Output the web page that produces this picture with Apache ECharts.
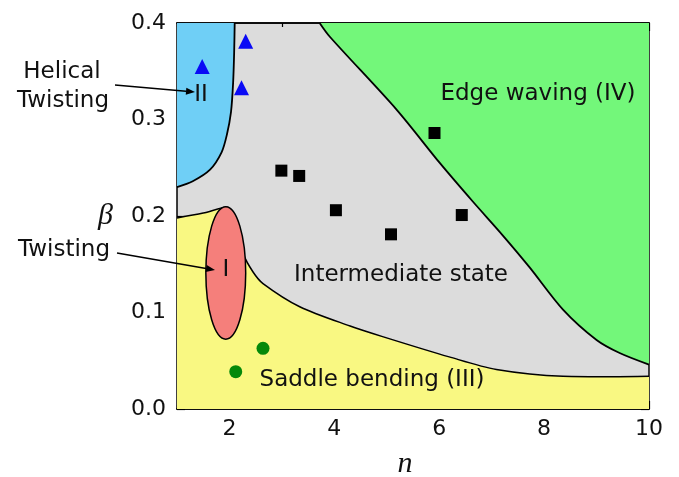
<!DOCTYPE html>
<html>
<head>
<meta charset="utf-8">
<script src="https://cdn.jsdelivr.net/npm/echarts@6/dist/echarts.min.js"></script>
<style>html,body{margin:0;padding:0;background:#fff}#c{width:679px;height:477px}</style>
</head>
<body>
<div id="c"></div>
<script>
// Region boundaries [n, beta]
const helicalBoundary = [[1.0,0.230],[1.3,0.236],[1.63,0.248],[1.85,0.266],[1.95,0.284],[2.03,0.308],[2.07,0.338],[2.09,0.370],[2.10,0.400]];
const edgeWavingBoundary = [[3.72,0.400],[3.91,0.386],[5.19,0.310],[6.01,0.255],[6.64,0.215],[7.21,0.180],[7.72,0.147],[8.36,0.103],[9.0,0.0715],[9.44,0.058],[10.0,0.046]];
const saddleBoundary = [[1.0,0.198],[1.5,0.203],[1.95,0.209],[2.15,0.185],[2.26,0.161],[2.45,0.142],[2.64,0.130],[3.34,0.106],[4.30,0.086],[4.92,0.075],[6.19,0.054],[7.09,0.041],[8.36,0.034],[9.3,0.0335],[10.0,0.034]];
// Twisting ellipse: [centre n, centre beta, half-width n, half-height beta]
const twistingEllipse = [[1.93,0.141,0.38,0.0686]];
// Data points
const helicalPts = [[1.48,0.355],[2.31,0.381],[2.23,0.333]];
const intermediatePts = [[2.99,0.247],[3.33,0.2415],[4.03,0.206],[5.08,0.181],[5.91,0.286],[6.43,0.201]];
const saddlePts = [[2.12,0.0387],[2.64,0.0629]];
// Ticks
const xMajor = [2,4,6,8,10];
const xMinor = [1,3,5,7,9];

const FONT = 'DejaVu Sans';
const chart = echarts.init(document.getElementById('c'), null, {renderer:'canvas'});

function xAx(pos, vals, len, labels, extra) {
  return Object.assign({
    type:'value', position:pos, min:1, max:10, interval:1,
    axisLine:{show:true, onZero:false, lineStyle:{color:'#000', width:1.5}},
    axisTick:{show:true, inside:true, length:len, customValues:vals, lineStyle:{color:'#000', width:1.2}},
    axisLabel:{show:labels, customValues:vals, fontFamily:FONT, fontSize:22, color:'#111', margin:9},
    splitLine:{show:false}
  }, extra||{});
}
function yAx(pos, labels, extra) {
  return Object.assign({
    type:'value', position:pos, min:0, max:0.4, interval:0.1,
    axisLine:{show:true, onZero:false, lineStyle:{color:'#000', width:1.5}},
    axisTick:{show:true, inside:true, length:8, lineStyle:{color:'#000', width:1.2}},
    minorTick:{show:true, splitNumber:2, length:4, lineStyle:{color:'#000', width:1.2}},
    axisLabel:{show:labels, formatter:v=>v.toFixed(1), fontFamily:FONT, fontSize:22, color:'#111', margin:11},
    splitLine:{show:false}, minorSplitLine:{show:false}
  }, extra||{});
}

function arrow(x1,y1,x2,y2){
  const a = Math.atan2(y2-y1,x2-x1), L=9, W=3.5;
  const bx = x2 - L*Math.cos(a), by = y2 - L*Math.sin(a);
  return [
    {type:'line', shape:{x1:x1,y1:y1,x2:bx,y2:by}, style:{stroke:'#000', lineWidth:1.5}, z:100},
    {type:'polygon', shape:{points:[[x2,y2],[bx - W*Math.sin(a), by + W*Math.cos(a)],[bx + W*Math.sin(a), by - W*Math.cos(a)]]}, style:{fill:'#000'}, z:100}
  ];
}
function txt(s,x,y,size,extra){
  return Object.assign({type:'text', x:x, y:y, z:100, style:{text:s, fontFamily:FONT, fontSize:size||23, fill:'#111', align:'center', verticalAlign:'middle'}}, extra||{});
}

const option = {
  animation:false,
  backgroundColor:'#fff',
  grid:{left:177, right:30, top:23, bottom:68, show:true, backgroundColor:'#dcdcdc', borderWidth:0, outerBoundsMode:'none', containLabel:false},
  xAxis:[
    xAx('bottom', xMajor, 8, true, {name:'n', nameLocation:'middle', nameGap:40, nameTextStyle:{fontFamily:'Liberation Serif', fontStyle:'italic', fontSize:30, color:'#111', padding:[0,16,0,0]}}),
    xAx('bottom', xMinor, 4, false),
    xAx('top', xMajor, 8, false),
    xAx('top', xMinor, 4, false)
  ],
  yAxis:[
    yAx('left', true, {name:'β', nameLocation:'middle', nameRotate:0, nameGap:64, nameTextStyle:{fontFamily:'Liberation Serif', fontStyle:'italic', fontSize:30, color:'#111'}}),
    yAx('right', false)
  ],
  series:[
    {type:'line', data:helicalBoundary, xAxisIndex:0, yAxisIndex:0, symbol:'none', smooth:0.3,
     lineStyle:{color:'#000', width:1.8}, areaStyle:{origin:'end', color:'#6fcff6', opacity:1}, z:2},
    {type:'line', data:edgeWavingBoundary, xAxisIndex:0, yAxisIndex:0, symbol:'none', smooth:0.3,
     lineStyle:{color:'#000', width:1.8}, areaStyle:{origin:'end', color:'#73f77a', opacity:1}, z:2},
    {type:'line', data:saddleBoundary, xAxisIndex:0, yAxisIndex:0, symbol:'none', smooth:0.3,
     lineStyle:{color:'#000', width:1.5}, areaStyle:{origin:'start', color:'#f9f882', opacity:1}, z:2},
    {type:'custom', data:twistingEllipse, xAxisIndex:0, yAxisIndex:0, z:3,
     renderItem:function(params, api){
       const c = api.coord([api.value(0), api.value(1)]);
       const s = api.size([api.value(2), api.value(3)]);
       return {type:'ellipse', shape:{cx:c[0], cy:c[1], rx:s[0], ry:s[1]}, style:{fill:'#f57f7b', stroke:'#000', lineWidth:1.5}};
     }},
    {type:'scatter', data:helicalPts, symbol:'triangle', symbolSize:15, itemStyle:{color:'#0a0af5', opacity:1}, z:5},
    {type:'scatter', data:intermediatePts, symbol:'rect', symbolSize:12, itemStyle:{color:'#000', opacity:1}, z:5},
    {type:'scatter', data:saddlePts, symbol:'circle', symbolSize:13, itemStyle:{color:'#05890a', opacity:1}, z:5}
  ],
  graphic:[
    txt('Helical',62,72),
    txt('Twisting',63,101),
    txt('Twisting',64,250),
    txt('II',201,95),
    txt('I',226,270),
    txt('Edge waving (IV)',538,94),
    txt('Intermediate state',401,275),
    txt('Saddle bending (III)',372,380)
  ].concat(arrow(115,85,195,92)).concat(arrow(117,253,215,270))
};
chart.setOption(option);
</script>
</body>
</html>
